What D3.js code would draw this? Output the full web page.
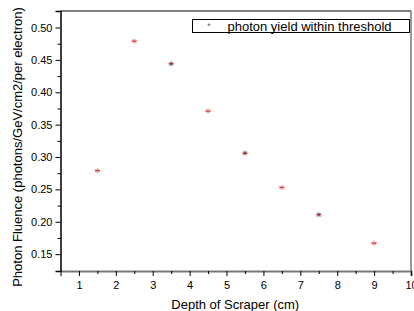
<!DOCTYPE html>
<html><head><meta charset="utf-8">
<script src="https://cdn.jsdelivr.net/npm/d3@7"></script>
<style>body{margin:0;background:#fff}svg{display:block}text{font-family:Arial,"Liberation Sans",sans-serif}</style>
</head><body>
<svg id="c" width="414" height="311"></svg>
<script>
const depth = [1.5, 2.5, 3.5, 4.5, 5.5, 6.5, 7.5, 9];
const fluence = [0.279, 0.479, 0.444, 0.371, 0.306, 0.253, 0.211, 0.167];
const xTicks = [1,2,3,4,5,6,7,8,9,10];
const yTicks = [0.15,0.20,0.25,0.30,0.35,0.40,0.45,0.50];
const seriesName = "photon yield within threshold";

const svg = d3.select("#c");
const L = 60.5, R = 411, T = 11, B = 271;
const x = d3.scaleLinear().domain([0.5, 10]).range([L, R]);
const y = d3.scaleLinear().domain([0.124, 0.5255]).range([B, T]);

svg.append("line").attr("x1",L).attr("x2",R).attr("y1",T).attr("y2",T).attr("stroke","#000").attr("stroke-width",1);
svg.append("line").attr("x1",R).attr("x2",R).attr("y1",T).attr("y2",B).attr("stroke","#777").attr("stroke-width",1.5);

const xAx = svg.append("g").attr("transform",`translate(0,${B})`)
  .call(d3.axisBottom(x).tickValues(xTicks).tickSize(5).tickFormat(d3.format("d")));
const xMinor = svg.append("g").attr("transform",`translate(0,${B})`)
  .call(d3.axisBottom(x).tickValues(d3.range(1.5,10,1)).tickSize(3).tickFormat(""));
xMinor.select(".domain").remove();
xAx.select(".domain").attr("stroke","#777").attr("stroke-width",2);
xAx.selectAll(".tick line").attr("stroke","#000");
xAx.selectAll("text").attr("font-size",11).attr("fill","#000").attr("dy","0.95em");

const yAx = svg.append("g").attr("transform",`translate(${L},0)`)
  .call(d3.axisLeft(y).tickValues(yTicks).tickSize(5).tickFormat(d3.format(".2f")));
const yMinor = svg.append("g").attr("transform",`translate(${L},0)`)
  .call(d3.axisLeft(y).tickValues(d3.range(0.175,0.52,0.05)).tickSize(3).tickFormat(""));
yMinor.select(".domain").remove();
yAx.select(".domain").attr("stroke","#000").attr("stroke-width",1.5);
yAx.selectAll("text").attr("font-size",11).attr("fill","#000").attr("x",-8);

svg.append("text").attr("x",(L+R)/2 - 0.5).attr("y",309).attr("text-anchor","middle")
  .attr("font-size",13).text("Depth of Scraper (cm)");
svg.append("text").attr("transform","translate(22,147) rotate(-90)").attr("text-anchor","middle")
  .attr("font-size",13).text("Photon Fluence (photons/GeV/cm2/per electron)");

function star(g, cx, cy, dark){
  const s = 2.5;
  g.append("line").attr("x1",cx-s).attr("x2",cx+s).attr("y1",cy).attr("y2",cy).attr("stroke","#e8201c").attr("stroke-width",1.4);
  const c = dark ? "#555" : "#c9a0a0";
  g.append("line").attr("x1",cx-s+0.5).attr("x2",cx+s-0.5).attr("y1",cy-s+0.5).attr("y2",cy+s-0.5).attr("stroke",c).attr("stroke-width",0.7);
  g.append("line").attr("x1",cx-s+0.5).attr("x2",cx+s-0.5).attr("y1",cy+s-0.5).attr("y2",cy-s+0.5).attr("stroke",c).attr("stroke-width",0.7);
  g.append("line").attr("x1",cx).attr("x2",cx).attr("y1",cy-s).attr("y2",cy+s).attr("stroke",dark?"#444":"#d06060").attr("stroke-width",0.7);
}
const pts = svg.append("g");
depth.forEach((d,i)=> star(pts, x(d), y(fluence[i]), i===2||i===4||i===6));

svg.append("rect").attr("x",192.5).attr("y",19.5).attr("width",217).attr("height",13)
  .attr("fill","#fff").attr("stroke","#000").attr("stroke-width",1);
svg.append("text").attr("x",209).attr("y",28.5).attr("text-anchor","middle").attr("font-size",9).attr("fill","#666").text("*");
svg.append("text").attr("x",227.5).attr("y",30.5).attr("font-size",13).text(seriesName);
</script>
</body></html>
